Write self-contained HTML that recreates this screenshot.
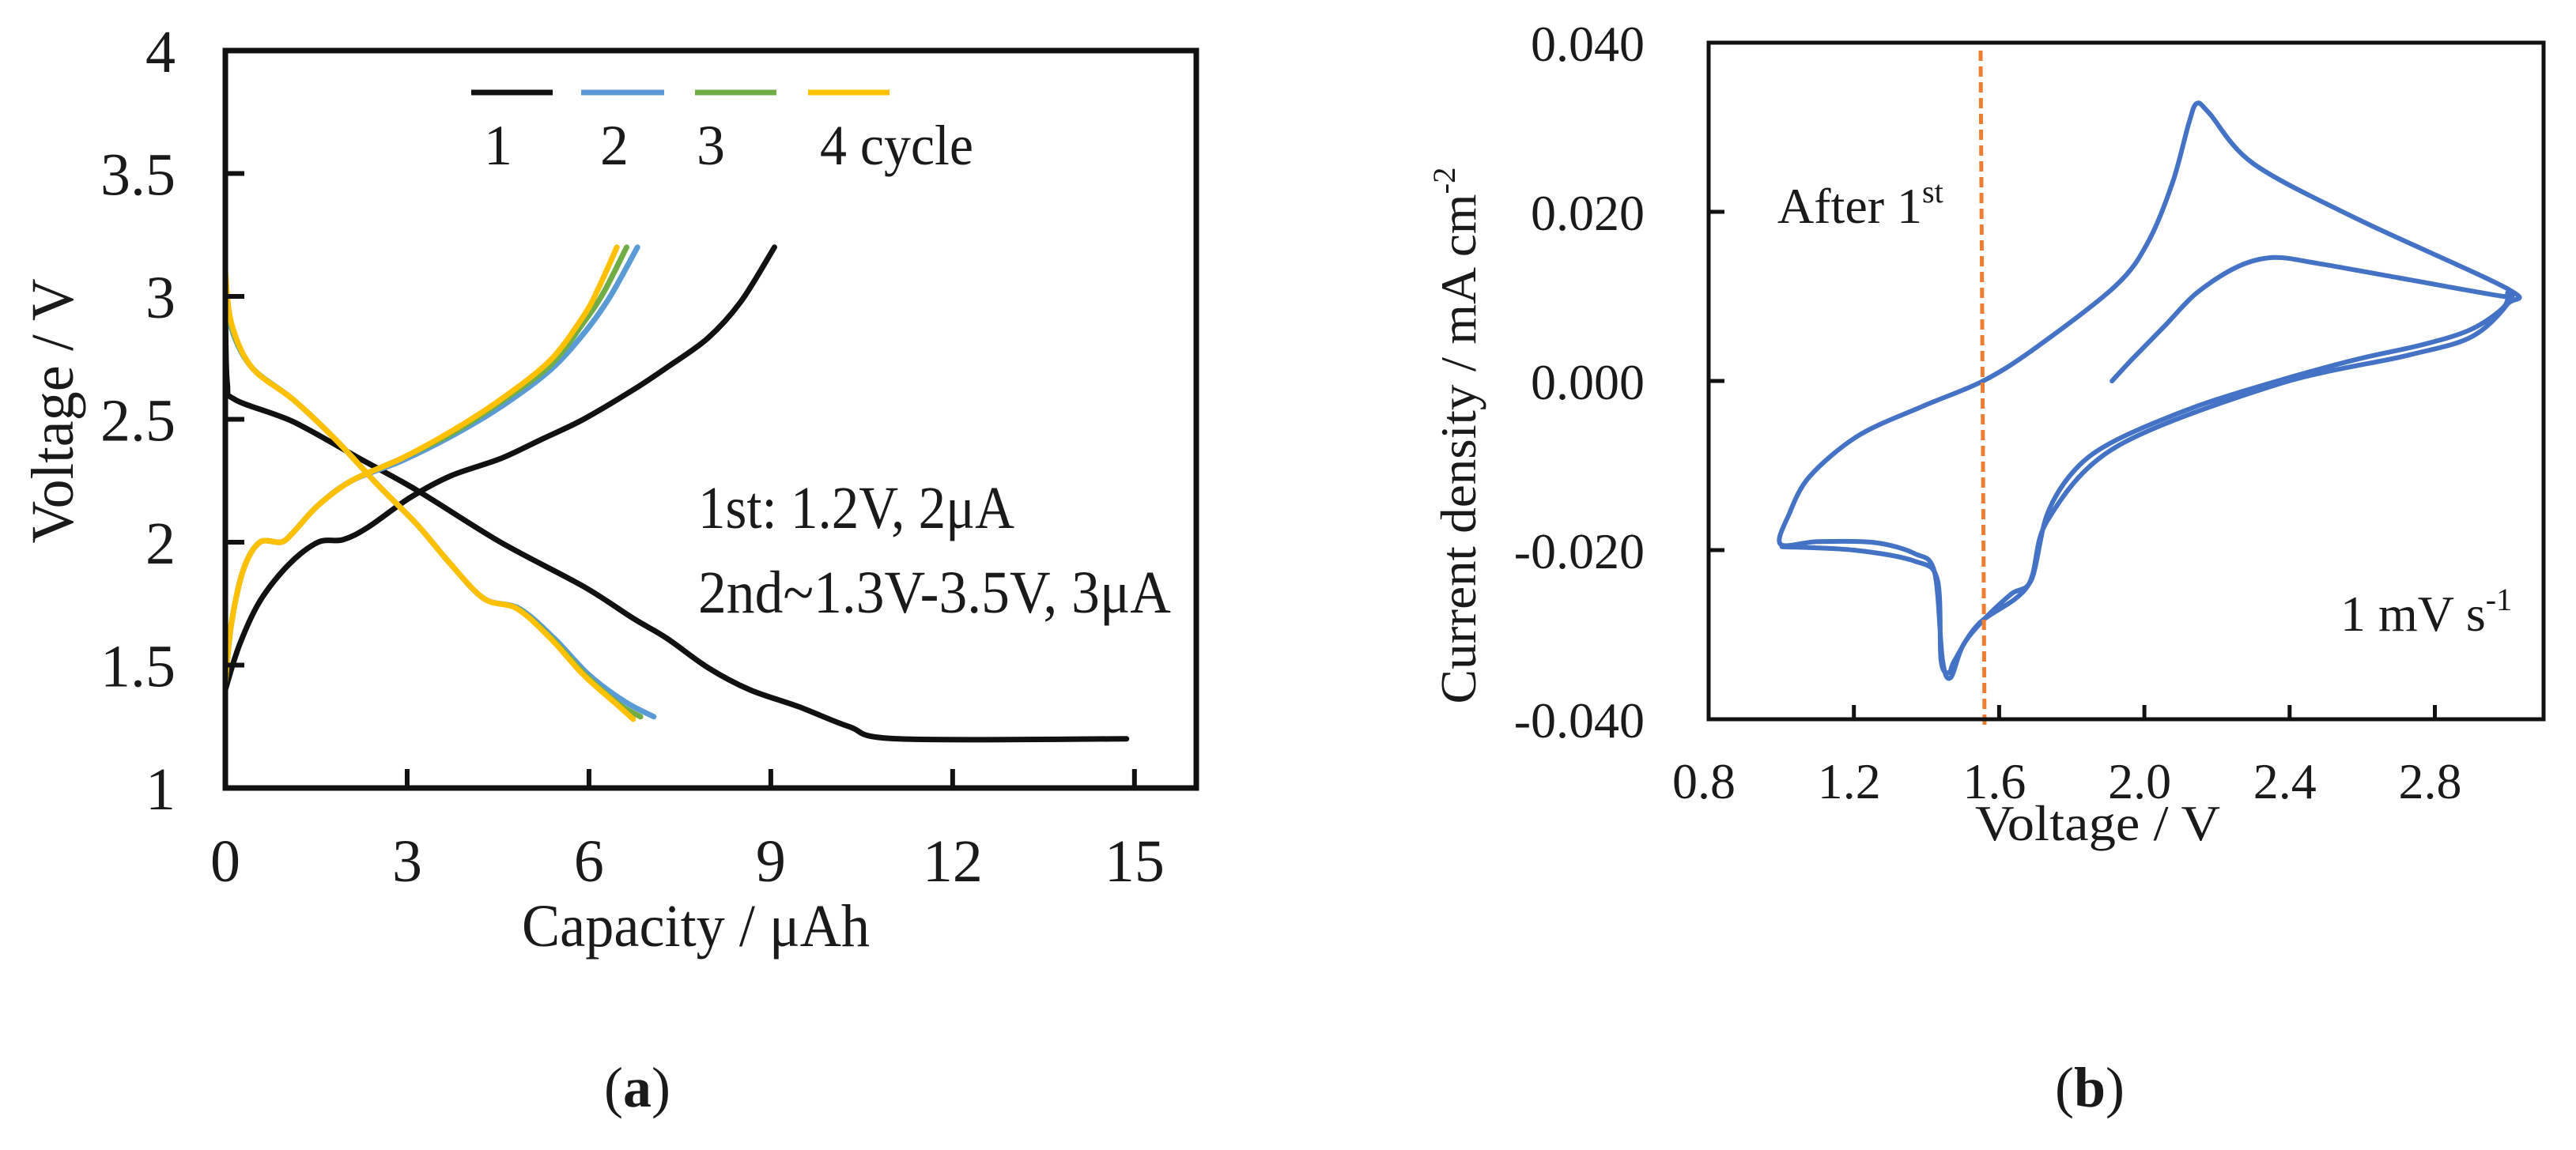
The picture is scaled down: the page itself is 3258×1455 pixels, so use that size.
<!DOCTYPE html>
<html><head><meta charset="utf-8"><style>
html,body{margin:0;padding:0;background:#fff;width:3258px;height:1455px;overflow:hidden}
svg{display:block}
text{font-family:"Liberation Serif",serif;fill:#1a1a1a}
</style></head><body>
<svg id="fig" width="3258" height="1455" viewBox="0 0 3258 1455" xmlns="http://www.w3.org/2000/svg">
<g id="chartA"></g>
<g id="chartB"></g>
</svg>
<script>
// ---------- Chart (a) data ----------
const aXTicks = [0,3,6,9,12,15];
const aYTicks = [1,1.5,2,2.5,3,3.5,4];
const aYTickLabels = ["1","1.5","2","2.5","3","3.5","4"];
const c1ChargeCap = [0,0.23,0.57,1.05,1.53,1.94,2.35,3.04,3.72,4.54,5.23,5.91,6.73,7.28,7.96,8.51,9.06];
const c1ChargeV   = [1.40,1.58,1.76,1.91,2.0,2.01,2.06,2.18,2.27,2.34,2.42,2.50,2.62,2.71,2.83,2.98,3.20];
const c1DisCap = [0,0.03,0.16,1.12,2.22,3.17,4.54,5.91,6.73,7.28,7.96,8.65,9.47,10.29,11.1,14.87];
const c1DisV   = [2.95,2.65,2.58,2.49,2.34,2.21,2.0,1.82,1.69,1.61,1.49,1.40,1.33,1.25,1.20,1.20];
const c2ChargeCap = [0,0.1,0.3,0.57,0.92,1.12,1.53,2.08,2.9,3.72,4.54,5.36,5.95,6.35,6.8];
const c2ChargeV   = [1.43,1.67,1.89,2.0,2.0,2.04,2.15,2.25,2.33,2.43,2.55,2.70,2.86,3.0,3.20];
const c3ChargeCap = [0,0.1,0.3,0.57,0.92,1.12,1.53,2.08,2.9,3.72,4.54,5.36,5.93,6.25,6.62];
const c3ChargeV   = [1.43,1.67,1.89,2.0,2.0,2.04,2.15,2.25,2.34,2.44,2.57,2.72,2.9,3.02,3.20];
const c4ChargeCap = [0,0.1,0.3,0.57,0.92,1.12,1.53,2.08,2.9,3.72,4.54,5.36,5.91,6.15,6.46];
const c4ChargeV   = [1.43,1.67,1.89,2.0,2.0,2.04,2.15,2.25,2.34,2.45,2.58,2.74,2.92,3.03,3.20];
const c2DisCap = [0,0.1,0.44,1.12,1.81,2.49,3.17,3.72,4.27,4.85,5.42,6.0,6.6,7.07];
const c2DisV   = [3.05,2.87,2.71,2.58,2.42,2.24,2.07,1.91,1.77,1.73,1.61,1.46,1.35,1.29];
const c3DisCap = [0,0.1,0.44,1.12,1.81,2.49,3.17,3.72,4.27,4.82,5.38,5.94,6.5,6.85];
const c3DisV   = [3.08,2.88,2.71,2.58,2.42,2.24,2.07,1.91,1.77,1.73,1.61,1.46,1.34,1.29];
const c4DisCap = [0,0.1,0.44,1.12,1.81,2.49,3.17,3.72,4.27,4.81,5.36,5.91,6.46,6.73];
const c4DisV   = [3.10,2.89,2.71,2.58,2.42,2.24,2.07,1.91,1.77,1.73,1.61,1.46,1.34,1.28];

// ---------- Chart (b) data ----------
const bXTicks = [0.8,1.2,1.6,2.0,2.4,2.8];
const bXTickLabels = ["0.8","1.2","1.6","2.0","2.4","2.8"];
const bYTicks = [-0.04,-0.02,0,0.02,0.04];
const bYTickLabels = ["-0.040","-0.020","0.000","0.020","0.040"];
const cvV = [1.911,1.967,2.056,2.144,2.256,2.356,2.478,2.7,2.989,3.0,2.989,2.9,2.767,2.589,2.367,2.144,1.922,1.811,1.733,1.689,1.633,1.556,1.5,1.466,1.444,1.422,1.367,1.256,1.1,0.998,1.022,1.078,1.211,1.389,1.556,1.7,1.922,2.011,2.078,2.122,2.144,2.178,2.3,2.589,3.0,3.0,2.9,2.722,2.367,1.922,1.733,1.678,1.544,1.478,1.462,1.44,1.43,1.367,1.2,1.002];
const cvI = [0,0.0026,0.0065,0.0104,0.0135,0.0146,0.0139,0.0122,0.0100,0.0104,0.0087,0.0061,0.0043,0.0026,0,-0.0030,-0.0070,-0.0104,-0.0157,-0.0235,-0.0252,-0.0283,-0.0313,-0.0351,-0.0330,-0.0226,-0.0204,-0.0191,-0.0190,-0.0193,-0.0157,-0.0113,-0.0065,-0.0030,0,0.0039,0.0113,0.0165,0.0235,0.0304,0.0328,0.0317,0.0257,0.0191,0.0109,0.0091,0.0052,0.0030,-0.0004,-0.0078,-0.0165,-0.0243,-0.0287,-0.0330,-0.0345,-0.0330,-0.0235,-0.0213,-0.0200,-0.0196];
const markerV = [1.549];

const NS="http://www.w3.org/2000/svg";
function mk(parent,tag,attrs,txt){const e=document.createElementNS(NS,tag);for(const k in attrs)e.setAttribute(k,attrs[k]);if(txt!==undefined)e.textContent=txt;parent.appendChild(e);return e;}
function pathD(xs,ys,sx,sy){
 const P=xs.map((x,i)=>[sx(x),sy(ys[i])]);
 let d='M'+P[0][0].toFixed(1)+','+P[0][1].toFixed(1);
 for(let i=0;i<P.length-1;i++){
  const p0=P[i-1]||P[i],p1=P[i],p2=P[i+1],p3=P[i+2]||P[i+1];
  const t=0.16;
  const c1=[p1[0]+(p2[0]-p0[0])*t,p1[1]+(p2[1]-p0[1])*t];
  const c2=[p2[0]-(p3[0]-p1[0])*t,p2[1]-(p3[1]-p1[1])*t];
  d+='C'+c1[0].toFixed(1)+','+c1[1].toFixed(1)+' '+c2[0].toFixed(1)+','+c2[1].toFixed(1)+' '+p2[0].toFixed(1)+','+p2[1].toFixed(1);
 }
 return d;
}

// ---------- draw (a) ----------
(function(){
const g=document.getElementById('chartA');
const L=285,R=1513,T=64,B=997;
const sx=v=>L+(v-0)*(R-L)/16.02;
const sy=v=>B-(v-1)*(B-T)/3;
const series=[
 [c1ChargeCap,c1ChargeV,'#111','cycle1-charge-line'],[c1DisCap,c1DisV,'#111','cycle1-discharge-line'],
 [c2ChargeCap,c2ChargeV,'#5b9bd5','cycle2-charge-line'],[c2DisCap,c2DisV,'#5b9bd5','cycle2-discharge-line'],
 [c3ChargeCap,c3ChargeV,'#70ad47','cycle3-charge-line'],[c3DisCap,c3DisV,'#70ad47','cycle3-discharge-line'],
 [c4ChargeCap,c4ChargeV,'#ffc000','cycle4-charge-line'],[c4DisCap,c4DisV,'#ffc000','cycle4-discharge-line']];
series.forEach(s=>{
 const p=mk(g,'path',{d:pathD(s[0],s[1],sx,sy),fill:'none',stroke:s[2],'stroke-width':7,'stroke-linejoin':'round','stroke-linecap':'round'});
 
 
});
const f=mk(g,'rect',{x:L,y:T,width:R-L,height:B-T,fill:'none',stroke:'#111','stroke-width':7});


aXTicks.forEach(v=>{
 const t=mk(g,'line',{x1:sx(v),x2:sx(v),y1:B,y2:B-24,stroke:'#111','stroke-width':6});
 
 
 const l=mk(g,'text',{x:sx(v),y:B+118,'font-size':76,'text-anchor':'middle'},String(v));
 
 
});
aYTicks.forEach((v,i)=>{
 const t=mk(g,'line',{x1:L,x2:L+24,y1:sy(v),y2:sy(v),stroke:'#111','stroke-width':6});
 
 
 const l=mk(g,'text',{x:222,y:sy(v)+27,'font-size':76,'text-anchor':'end'},aYTickLabels[i]);
 
 
});
})();

// ---------- draw (b) ----------
(function(){
const g=document.getElementById('chartB');
const L=2161,R=3217,T=54,B=910;
const sx=v=>L+(v-0.8)*459.25;
const sy=v=>B-(v+0.04)*(B-T)/0.08;
const p=mk(g,'path',{d:pathD(cvV,cvI,sx,sy),fill:'none',stroke:'#4472c4','stroke-width':6,'stroke-linejoin':'round','stroke-linecap':'round'});


markerV.forEach(v=>{
 const d=mk(g,'line',{x1:sx(v),x2:sx(v)+5,y1:64,y2:920,stroke:'#ed7d31','stroke-width':5,'stroke-dasharray':'13 7'});
 
 
});
const f=mk(g,'path',{d:`M${L},${T}H${R}V${B}H${L}Z`,fill:'none',stroke:'#111','stroke-width':5});


bXTicks.forEach((v,i)=>{
 const t=mk(g,'line',{x1:sx(v),x2:sx(v),y1:B,y2:B-18,stroke:'#111','stroke-width':5});
 
 
 const l=mk(g,'text',{x:sx(v)-6,y:B+100,'font-size':64,'text-anchor':'middle'},bXTickLabels[i]);
 
 
});
bYTicks.forEach((v,i)=>{
 const t=mk(g,'line',{x1:L,x2:L+20,y1:sy(v),y2:sy(v),stroke:'#111','stroke-width':5});
 
 
 const l=mk(g,'text',{x:2080,y:sy(v)+23,'font-size':64,'text-anchor':'end'},bYTickLabels[i]);
 
 
});
})();
</script>
<svg style="position:absolute;left:0;top:0" width="3258" height="1455" xmlns="http://www.w3.org/2000/svg">
<g stroke-width="7">
 <line x1="596" y1="117" x2="699" y2="117" stroke="#111"/>
 <line x1="735" y1="117" x2="840" y2="117" stroke="#5b9bd5"/>
 <line x1="879" y1="117" x2="982" y2="117" stroke="#70ad47"/>
 <line x1="1022" y1="117" x2="1125" y2="117" stroke="#ffc000"/>
</g>
<text x="630" y="208" font-size="72" text-anchor="middle">1</text>
<text x="777" y="208" font-size="72" text-anchor="middle">2</text>
<text x="899" y="208" font-size="72" text-anchor="middle">3</text>
<text x="1037" y="208" font-size="72" textLength="194" lengthAdjust="spacingAndGlyphs">4 cycle</text>
<text x="883" y="668" font-size="76" textLength="400" lengthAdjust="spacingAndGlyphs">1st: 1.2V, 2μA</text>
<text x="883" y="775" font-size="76" textLength="598" lengthAdjust="spacingAndGlyphs">2nd~1.3V-3.5V,  3μA</text>
<text x="880" y="1197" font-size="76" text-anchor="middle" textLength="440" lengthAdjust="spacingAndGlyphs">Capacity  / μAh</text>
<text transform="translate(92,520) rotate(-90)" font-size="76" text-anchor="middle" textLength="335" lengthAdjust="spacingAndGlyphs">Voltage  / V</text>
<text x="806" y="1400" font-size="72" text-anchor="middle">(<tspan font-weight="bold">a</tspan>)</text>
<text x="2248" y="282" font-size="64">After 1<tspan font-size="40" dy="-26">st</tspan></text>
<text x="2960" y="798" font-size="64">1 mV s<tspan font-size="40" dy="-26">-1</tspan></text>
<text x="2653" y="1063" font-size="64" text-anchor="middle" textLength="310" lengthAdjust="spacingAndGlyphs">Voltage  / V</text>
<text transform="translate(1866,551) rotate(-90)" font-size="64" text-anchor="middle" textLength="679" lengthAdjust="spacingAndGlyphs">Current  density / mA cm<tspan font-size="40" dy="-26">-2</tspan></text>
<text x="2643" y="1400" font-size="72" text-anchor="middle">(<tspan font-weight="bold">b</tspan>)</text>
</svg>
</body></html>
